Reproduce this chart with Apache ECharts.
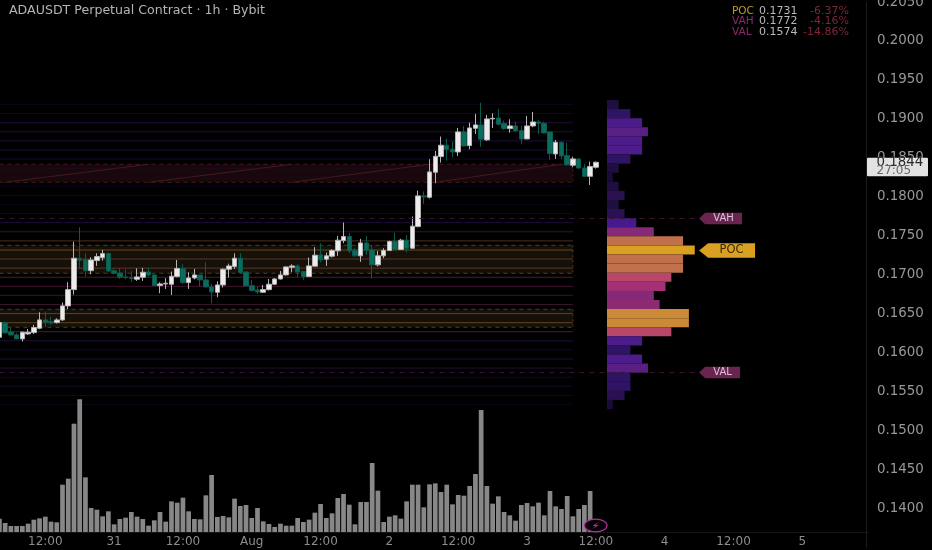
<!DOCTYPE html>
<html>
<head>
<meta charset="utf-8">
<style>html,body{margin:0;padding:0;background:#000}#c{width:932px;height:550px}</style>
<script src="https://cdn.jsdelivr.net/npm/echarts@6/dist/echarts.min.js"></script>
</head>
<body>
<div id="c"></div>
<script>
// ---- DATA ----
const tickLabels = {8:'12:00',20:'31',32:'12:00',44:'Aug',56:'12:00',68:'2',80:'12:00',92:'3',104:'12:00',116:'4',128:'12:00',140:'5'};
const hourCount = 152;
// [open, close, low, high]
const candles = [
[.16194,.16383,.16190,.16396],[.16379,.16250,.16245,.16396],[.16263,.16224,.16216,.16319],[.16224,.16173,.16169,.16246],
[.16173,.16259,.16139,.16267],[.16237,.16259,.16224,.16301],[.16254,.16319,.16237,.16353],[.16310,.16417,.16297,.16515],
[.16417,.16391,.16323,.16524],[.16396,.16379,.16353,.16460],[.16383,.16417,.16370,.16438],[.16417,.16597,.16404,.16640],
[.16597,.16806,.16554,.16901],[.16806,.17209,.16742,.17423],[.17209,.17183,.17080,.17607],[.17192,.17050,.16973,.17273],
[.17050,.17187,.17003,.17222],[.17179,.17230,.17110,.17273],[.17217,.17269,.17179,.17316],[.17269,.17046,.17033,.17282],
[.17050,.17016,.17003,.17085],[.17020,.16965,.16943,.17080],[.16969,.16961,.16939,.17068],[.16961,.16948,.16909,.17046],
[.16939,.16969,.16918,.17080],[.16965,.17029,.16918,.17085],[.17033,.16995,.16965,.17089],[.16995,.16858,.16849,.16995],
[.16858,.16879,.16759,.16901],[.16879,.16888,.16815,.16952],[.16875,.16978,.16738,.17038],[.16973,.17076,.16965,.17187],
[.17076,.16896,.16879,.17132],[.16896,.16956,.16815,.17029],[.16956,.16995,.16939,.17072],[.16995,.16931,.16845,.16995],
[.16931,.16841,.16832,.17157],[.16841,.16776,.16631,.16879],[.16772,.16866,.16708,.16913],[.16866,.17068,.16832,.17080],
[.17068,.17110,.16961,.17140],[.17102,.17209,.17072,.17273],[.17209,.17029,.17008,.17273],[.17033,.16854,.16854,.17038],
[.16858,.16794,.16781,.16931],[.16802,.16776,.16751,.16845],[.16772,.16806,.16764,.16866],[.16806,.16875,.16794,.16943],
[.16875,.16943,.16866,.16952],[.16943,.16995,.16935,.17046],[.16995,.17098,.16986,.17102],[.17093,.17110,.17029,.17132],
[.17110,.17033,.16965,.17132],[.17038,.16974,.16931,.17047],[.16974,.17111,.16974,.17218],[.17107,.17248,.17103,.17351],
[.17252,.17188,.17154,.17402],[.17197,.17240,.17111,.17282],[.17235,.17308,.17218,.17325],[.17304,.17441,.17240,.17496],
[.17436,.17488,.17402,.17668],[.17488,.17304,.17274,.17531],[.17308,.17240,.17231,.17338],[.17240,.17406,.17163,.17458],
[.17406,.17312,.17252,.17496],[.17317,.17124,.16949,.17381],[.17124,.17240,.17103,.17304],[.17240,.17308,.17210,.17338],
[.17308,.17424,.17304,.17436],[.17428,.17321,.17312,.17539],[.17321,.17441,.17317,.17458],[.17441,.17338,.17287,.17509],
[.17338,.17621,.17329,.17745],[.17616,.18010,.17608,.18078],[.18010,.17997,.17907,.18066],[.17993,.18318,.17976,.18481],
[.18314,.18519,.18173,.18588],[.18515,.18661,.18438,.18772],[.18661,.18605,.18464,.18746],[.18609,.18575,.18506,.18708],
[.18575,.18832,.18524,.18883],[.18832,.18652,.18643,.18909],[.18656,.18883,.18609,.18952],[.18879,.18922,.18806,.19063],
[.18922,.18738,.18643,.19208],[.18729,.18999,.18716,.19050],[.18999,.19007,.18883,.19071],[.19011,.18930,.18917,.19127],
[.18939,.18875,.18857,.18977],[.18875,.18909,.18823,.18994],[.18909,.18845,.18836,.18964],[.18849,.18742,.18673,.18909],
[.18742,.18909,.18738,.19037],[.18909,.18960,.18892,.19089],[.18960,.18943,.18806,.18986],[.18943,.18819,.18815,.18964],
[.18832,.18554,.18472,.18832],[.18549,.18699,.18485,.18729],[.18699,.18524,.18481,.18708],[.18528,.18408,.18404,.18695],
[.18404,.18485,.18378,.18515],[.18485,.18369,.18361,.18494],[.18369,.18262,.18250,.18421],[.18262,.18387,.18151,.18451],
[.18378,.18442,.18361,.18451]
];
const volumes = [40,27,18,18,18,25,37,41,46,31,29,142,160,325,398,164,72,67,47,62,23,39,43,60,46,39,19,35,60,31,92,88,103,62,39,38,110,171,45,48,44,100,78,81,42,72,32,24,15,25,19,19,42,30,37,58,84,42,56,102,114,82,23,90,90,207,124,30,46,50,40,92,142,142,74,143,146,120,142,83,111,109,138,174,366,138,85,107,60,50,34,81,87,77,88,50,123,77,69,108,47,69,81,123,30];
const profilePrices = [.19184,.19067,.18950,.18834,.18717,.18600,.18483,.18366,.18250,.18133,.18016,.17899,.17783,.17666,.17549,.17432,.17315,.17199,.17082,.16965,.16848,.16732,.16615,.16498,.16381,.16265,.16148,.16031,.15914,.15798,.15681,.15564,.15447,.15331];
const profileCounts = [2,4,6,7,6,6,4,2,1,2,3,2,3,5,8,13,15,13,13,11,10,8,9,14,14,11,6,4,6,7,4,4,3,1];
const profileBin = .001168;
const zoneLow = [.18185,.17016,.16322];
const zoneHigh = [.18416,.17376,.16553];
const zoneKinds = ['red','gold','gold'];
const diagonalStart = [1,26,51,76];
const diagonalEnd = [26,51,75,98];
const levelNames = ['POC','VAH','VAL'];
const levelPrices = [.1731,.1772,.1574];
const levelChanges = ['-6.37%','-4.16%','-14.86%'];
const lastPrice = '0.1844';
const countdown = '27:05';
const titleText = 'ADAUSDT Perpetual Contract · 1h · Bybit';

// ---- STYLE ----
const FONT = '"DejaVu Sans"';
const palette = {1:'#1b0b38',2:'#1f0e40',3:'#2a1152',4:'#301464',5:'#461a8c',6:'#4b1c8a',7:'#5a1f85',8:'#862a78',9:'#8c2a72',10:'#a53075',11:'#b8486a',13:'#c0704a',14:'#cb8a38',15:'#d9a021'};
const zoneStyle = {red:{fill:'#18070b',edge:'#451a20'},gold:{fill:'#15100a',edge:'#55400f'}};
const tagStyle = {POC:{fill:'#d9a021',text:'#3a2a0a',w:56,h:14.5,size:11.5},VAH:{fill:'#6b2452',text:'#d8c8d4',w:43,h:11.5,size:10},VAL:{fill:'#6b2452',text:'#d8c8d4',w:41,h:11.5,size:10}};
const lineEnd = 100, tagAnchor = 122;

const categories = [];
for (let i = 0; i < hourCount; i++) categories.push('h' + i);

function renderZone(p, api) {
  const k = p.dataIndex, s = zoneStyle[zoneKinds[k]];
  const a = api.coord([0, zoneHigh[k]]), b = api.coord([lineEnd, zoneLow[k]]);
  const dash = {stroke:s.edge, lineWidth:1, lineDash:[4,4]};
  return {type:'group', children:[
    {type:'rect', shape:{x:a[0],y:a[1],width:b[0]-a[0],height:b[1]-a[1]}, style:{fill:s.fill}},
    {type:'line', shape:{x1:a[0],y1:a[1],x2:b[0],y2:a[1]}, style:dash},
    {type:'line', shape:{x1:a[0],y1:b[1],x2:b[0],y2:b[1]}, style:dash},
    {type:'line', shape:{x1:b[0],y1:a[1],x2:b[0],y2:b[1]}, style:{stroke:s.edge,lineWidth:1,lineDash:[2,3]}}
  ]};
}
function renderDiagonal(p, api) {
  const k = p.dataIndex;
  const a = api.coord([diagonalStart[k], zoneLow[0]]), b = api.coord([diagonalEnd[k], zoneHigh[0]]);
  return {type:'line', shape:{x1:a[0],y1:a[1],x2:b[0],y2:b[1]}, style:{stroke:'#451a20',lineWidth:1}};
}
function renderLevelLine(p, api) {
  const k = p.dataIndex;
  const a = api.coord([0, profilePrices[k]]), b = api.coord([lineEnd, profilePrices[k]]);
  return {type:'line', shape:{x1:a[0],y1:a[1],x2:b[0],y2:b[1]}, style:{stroke:palette[profileCounts[k]],lineWidth:1,opacity:.42}};
}
function renderProfile(p, api) {
  const k = p.dataIndex;
  const a = api.coord([0, profilePrices[k]+profileBin/2]), b = api.coord([profileCounts[k], profilePrices[k]-profileBin/2]);
  return {type:'rect', shape:{x:a[0],y:a[1],width:b[0]-a[0],height:b[1]-a[1]}, style:{fill:palette[profileCounts[k]]}};
}
function renderLevelTag(p, api) {
  const k = p.dataIndex, name = levelNames[k], t = tagStyle[name];
  const c = api.coord([tagAnchor, levelPrices[k]]);
  const x = c[0], y = c[1], tip = name === 'POC' ? 9 : 6, h = t.h/2;
  const kids = [];
  if (name !== 'POC') {
    const s = api.coord([0, levelPrices[k]]);
    kids.push({type:'line', shape:{x1:s[0],y1:y,x2:x,y2:y}, style:{stroke:'#3a1530',lineWidth:1,lineDash:[5,5]}});
  }
  kids.push({type:'polygon', shape:{points:[[x,y],[x+tip,y-h],[x+t.w,y-h],[x+t.w,y+h],[x+tip,y+h]]}, style:{fill:t.fill}});
  kids.push({type:'text', style:{text:name,x:x+tip+(t.w-tip)/2,y:y,textAlign:'center',textVerticalAlign:'middle',fill:t.text,font:t.size+'px '+FONT}});
  return {type:'group', children:kids};
}

const mainLeft = -3.45, chartWidth = 871.72;
const priceMin = .135, priceMax = .205;
const option = {
  backgroundColor:'#000',
  animation:false,
  title:{text:titleText,left:9,top:4,padding:0,textStyle:{color:'#b4b4b4',fontSize:12.6,fontWeight:'normal',fontFamily:FONT}},
  grid:[
    {left:mainLeft,top:2.08,width:chartWidth,height:544.88,outerBoundsMode:'none'},
    {left:mainLeft,top:398.7,width:chartWidth,height:133.3,outerBoundsMode:'none'},
    {left:607,top:2.08,width:257.4,height:544.88,outerBoundsMode:'none'}
  ],
  xAxis:[
    {type:'category',gridIndex:0,data:categories,boundaryGap:true,show:false},
    {type:'category',gridIndex:1,data:categories,boundaryGap:true,
      axisLine:{show:true,lineStyle:{color:'#161616'}},axisTick:{show:false},splitLine:{show:false},
      axisLabel:{color:'#8c8c8c',fontSize:12,fontFamily:FONT,margin:4,hideOverlap:false,
        interval:(i)=>tickLabels[i]!==undefined,formatter:(v,i)=>tickLabels[i]||''}},
    {type:'value',gridIndex:2,min:0,max:44,show:false}
  ],
  yAxis:[
    {type:'value',gridIndex:0,position:'right',offset:-2.27,min:priceMin,max:priceMax,interval:.005,
      axisLine:{show:true,lineStyle:{color:'#1c1c1c'}},axisTick:{show:false},splitLine:{show:false},
      axisLabel:{color:'#989898',fontSize:13.4,fontFamily:FONT,margin:11,showMinLabel:false,formatter:v=>v.toFixed(4)}},
    {type:'value',gridIndex:1,min:0,max:400,show:false},
    {type:'value',gridIndex:2,min:priceMin,max:priceMax,show:false}
  ],
  series:[
    {type:'custom',name:'Zones',xAxisIndex:0,yAxisIndex:0,z:1,silent:true,renderItem:renderZone,data:zoneLow.map((v,i)=>[i,v])},
    {type:'custom',name:'Zone diagonals',xAxisIndex:0,yAxisIndex:0,z:1,silent:true,renderItem:renderDiagonal,data:diagonalStart.map((v,i)=>[v,zoneLow[0]])},
    {type:'custom',name:'Profile levels',xAxisIndex:0,yAxisIndex:0,z:2,silent:true,renderItem:renderLevelLine,data:profilePrices.map((v,i)=>[0,v])},
    {type:'bar',name:'Volume',xAxisIndex:1,yAxisIndex:1,data:volumes,barWidth:4.7,z:3,itemStyle:{color:'#878787'}},
    {type:'candlestick',name:'ADAUSDT',xAxisIndex:0,yAxisIndex:0,data:candles,barWidth:5,z:4,
      itemStyle:{color:'#ececec',color0:'#0b6b5c',borderColor:'#b4b4b4',borderColor0:'#0b5a4e',borderWidth:1}},
    {type:'custom',name:'Volume profile',xAxisIndex:2,yAxisIndex:2,z:3,silent:true,renderItem:renderProfile,data:profileCounts.map((v,i)=>[v,profilePrices[i]])},
    {type:'custom',name:'Level tags',xAxisIndex:0,yAxisIndex:0,z:5,silent:true,renderItem:renderLevelTag,data:levelPrices.map((v,i)=>[tagAnchor,v])}
  ],
  graphic:[
    ...levelNames.flatMap((n,i)=>{
      const y = 11+i*10.6, f = '11px '+FONT;
      return [
        {type:'text',x:732,y:y,style:{text:n,fill:n==='POC'?'#c49a2a':'#8e2a6e',font:'10.5px '+FONT,textVerticalAlign:'middle'}},
        {type:'text',x:759,y:y,style:{text:levelPrices[i].toFixed(4),fill:'#b8b8b8',font:f,textVerticalAlign:'middle'}},
        {type:'text',x:849,y:y,style:{text:levelChanges[i],fill:'#7e2636',font:f,textAlign:'right',textVerticalAlign:'middle'}}
      ];
    }),
    {type:'rect',z:50,shape:{x:867,y:157.7,width:61,height:18.5,r:1},style:{fill:'#e2e2e2'}},
    {type:'text',z:51,x:876.5,y:162.7,style:{text:lastPrice,fill:'#2a2a2a',font:'13.4px '+FONT,textVerticalAlign:'middle'}},
    {type:'text',z:51,x:876.5,y:171.2,style:{text:countdown,fill:'#666',font:'12px '+FONT,textVerticalAlign:'middle'}},
    {type:'ellipse',z:50,shape:{cx:595.7,cy:525.5,rx:11.3,ry:6.3},style:{fill:'#060206',stroke:'#b0309a',lineWidth:1.2}},
    {type:'polygon',z:51,shape:{points:[[598.5,522],[592.5,526],[595.5,526],[592.8,529],[598.8,525],[595.8,525]]},style:{fill:'#b0309a'}}
  ]
};
const chart = echarts.init(document.getElementById('c'));
chart.setOption(option);
</script>
</body>
</html>
